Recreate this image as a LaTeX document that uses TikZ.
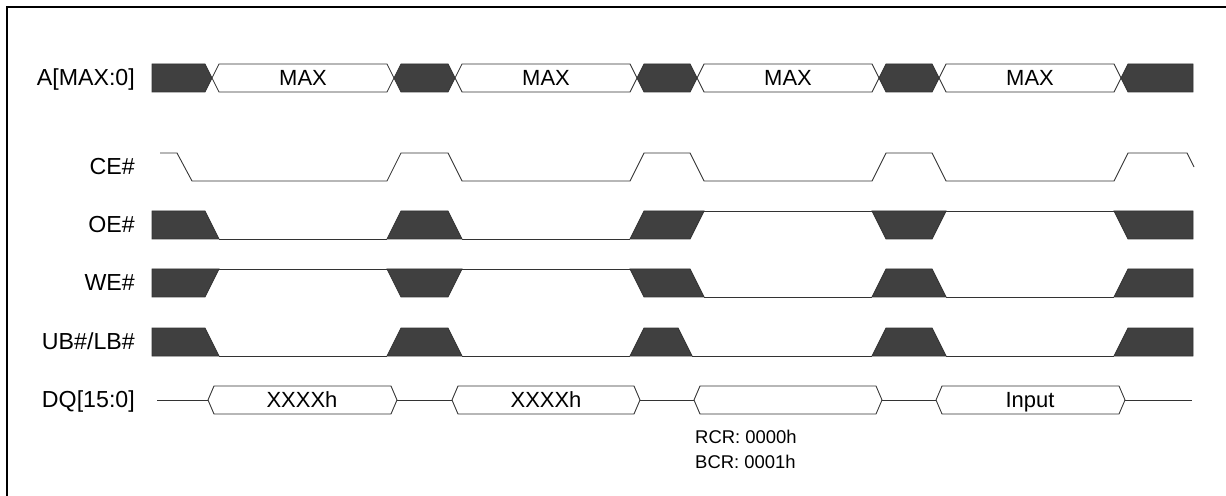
\documentclass[tikz,border=0pt]{standalone}
\usepackage{fontspec}
\setmainfont{Liberation Sans}
\usetikzlibrary{positioning}

\tikzset{
  wave/.style={draw=black!80,line width=0.5pt},
  dark/.style={wave,fill=black!75},
  signame/.style={anchor=base east,font=\fontsize{13.2}{15}\selectfont},
  busval/.style={anchor=base,font=\fontsize{12.5}{14}\selectfont},
  note/.style={anchor=base west,font=\fontsize{10.5}{12}\selectfont}
}

\begin{document}
\begin{tikzpicture}[x=0.02cm,y=-0.02cm]

  \useasboundingbox (0,0) rectangle (1226,496);
  \draw [line width=1.1pt] (7,500) -- (7,7) -- (1230,7);

  \node [signame] (sigA)  at (141,85.5)  {A[MAX:0]};
  \node [signame] (sigCE) at (141,174.5) {CE\#};
  \node [signame] (sigOE) at (141,232.5) {OE\#};
  \node [signame] (sigWE) at (141,290.5) {WE\#};
  \node [signame] (sigUB) at (141,349.5) {UB\#/LB\#};
  \node [signame] (sigDQ) at (141,407.5) {DQ[15:0]};

  % address bus
  \filldraw [dark] (152,64) -- (205,64) -- (212,78) -- (205,92) -- (152,92) -- cycle;
  \foreach \a/\b/\c in {212/394/white, 394/455/black!75, 455/637/white, 637/697/black!75,
                        697/879/white, 879/939/black!75, 939/1121/white}
    \filldraw [wave,fill=\c] (\a,78) -- (\a+7,64) -- (\b-7,64) -- (\b,78) -- (\b-7,92) -- (\a+7,92) -- cycle;
  \filldraw [dark] (1121,78) -- (1128,64) -- (1193,64) -- (1193,92) -- (1128,92) -- cycle;
  \foreach \m [count=\i] in {303,546,788,1030}
    \node [busval] (addr\i) at (\m,85.5) {MAX};

  % CE#
  \draw [wave] (160,153) -- (177,153) -- (192,181) -- (387,181) -- (401,153) -- (448,153) -- (462,181)
    -- (630,181) -- (644,153) -- (690,153) -- (704,181) -- (872,181) -- (886,153) -- (932,153)
    -- (946,181) -- (1114,181) -- (1128,153) -- (1187,153) -- (1194,167);

  % OE#
  \draw [wave] (219,239) -- (387,239) (462,239) -- (630,239) (704,211) -- (872,211) (946,211) -- (1114,211);
  \filldraw [dark] (152,211) -- (205,211) -- (219,239) -- (152,239) -- cycle;
  \filldraw [dark] (387,239) -- (401,211) -- (448,211) -- (462,239) -- cycle;
  \filldraw [dark] (630,239) -- (644,211) -- (704,211) -- (690,239) -- cycle;
  \filldraw [dark] (872,211) -- (946,211) -- (932,239) -- (886,239) -- cycle;
  \filldraw [dark] (1114,211) -- (1193,211) -- (1193,239) -- (1128,239) -- cycle;

  % WE#
  \draw [wave] (219,269) -- (387,269) (462,269) -- (630,269) (704,297) -- (872,297) (946,297) -- (1114,297);
  \filldraw [dark] (152,269) -- (219,269) -- (205,297) -- (152,297) -- cycle;
  \filldraw [dark] (387,269) -- (462,269) -- (448,297) -- (401,297) -- cycle;
  \filldraw [dark] (630,269) -- (690,269) -- (704,297) -- (644,297) -- cycle;
  \filldraw [dark] (872,297) -- (886,269) -- (932,269) -- (946,297) -- cycle;
  \filldraw [dark] (1114,297) -- (1128,269) -- (1193,269) -- (1193,297) -- cycle;

  % UB#/LB#
  \draw [wave] (219,356) -- (387,356) (462,356) -- (630,356) (692,356) -- (872,356) (946,356) -- (1114,356);
  \filldraw [dark] (152,328) -- (205,328) -- (219,356) -- (152,356) -- cycle;
  \filldraw [dark] (387,356) -- (401,328) -- (448,328) -- (462,356) -- cycle;
  \filldraw [dark] (630,356) -- (644,328) -- (678,328) -- (692,356) -- cycle;
  \filldraw [dark] (872,356) -- (886,328) -- (932,328) -- (946,356) -- cycle;
  \filldraw [dark] (1114,356) -- (1128,328) -- (1193,328) -- (1193,356) -- cycle;

  % data bus
  \draw [wave] (157,400) -- (1192,400);
  \foreach \a/\b in {208/397, 452/640, 694/882, 936/1125}
    \filldraw [wave,fill=white] (\a,400) -- (\a+6,386) -- (\b-6,386) -- (\b,400) -- (\b-6,414) -- (\a+6,414) -- cycle;
  \node [busval] (dq1) at (302,407.5)  {XXXXh};
  \node [busval] (dq2) at (546,407.5)  {XXXXh};
  \node [busval] (dq4) at (1030,407.5) {Input};
  \node [note] (rcr) at (689,443) {RCR: 0000h};
  \node [note] (bcr) at (689,468) {BCR: 0001h};

\end{tikzpicture}
\end{document}
